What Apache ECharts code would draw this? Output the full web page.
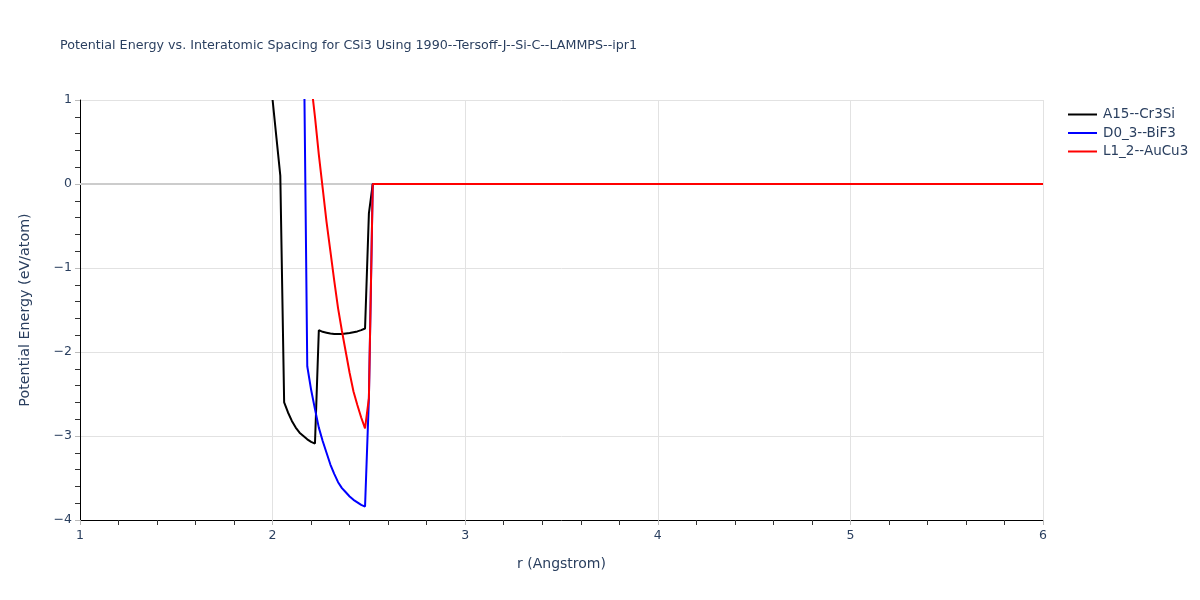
<!DOCTYPE html>
<html><head><meta charset="utf-8">
<script src="https://cdn.jsdelivr.net/npm/echarts@6/dist/echarts.min.js"></script>
<style>html,body{margin:0;padding:0;background:#fff}#c{width:1200px;height:600px}</style>
</head><body><div id="c"></div>
<script>
const seriesNames = ["A15--Cr3Si", "D0_3--BiF3", "L1_2--AuCu3"];
const colors = ["#000000", "#0000ff", "#ff0000"];
const xTicks = [1, 2, 3, 4, 5, 6];
const yTicks = [-4, -3, -2, -1, 0, 1];

const rA15 = [2.00, 2.02, 2.04, 2.06, 2.08, 2.10, 2.12, 2.14, 2.16, 2.18, 2.20, 2.22, 2.24, 2.26, 2.28, 2.30, 2.32, 2.34, 2.36, 2.38, 2.40, 2.42, 2.44, 2.46, 2.48, 2.50, 2.52, 3.0, 3.5, 4.0, 4.5, 5.0, 5.5, 6.0];
const eA15 = [1.0, 0.55, 0.1, -2.6, -2.72, -2.82, -2.9, -2.96, -3.0, -3.04, -3.07, -3.09, -1.74, -1.76, -1.77, -1.78, -1.785, -1.785, -1.785, -1.78, -1.775, -1.765, -1.755, -1.74, -1.72, -0.35, 0, 0, 0, 0, 0, 0, 0, 0];

const rD03 = [2.16, 2.18, 2.20, 2.22, 2.24, 2.26, 2.28, 2.30, 2.32, 2.34, 2.36, 2.38, 2.40, 2.42, 2.44, 2.46, 2.48, 2.50, 2.52, 3.0, 3.5, 4.0, 4.5, 5.0, 5.5, 6.0];
const eD03 = [2.2, -2.17, -2.45, -2.68, -2.9, -3.06, -3.2, -3.34, -3.45, -3.55, -3.62, -3.67, -3.72, -3.76, -3.79, -3.82, -3.84, -2.55, 0, 0, 0, 0, 0, 0, 0, 0];

const rL12 = [2.20, 2.22, 2.24, 2.26, 2.28, 2.30, 2.32, 2.34, 2.36, 2.38, 2.40, 2.42, 2.44, 2.46, 2.48, 2.50, 2.52, 3.0, 3.5, 4.0, 4.5, 5.0, 5.5, 6.0];
const eL12 = [1.2, 0.8, 0.35, -0.05, -0.45, -0.8, -1.15, -1.48, -1.75, -2.0, -2.25, -2.47, -2.63, -2.78, -2.91, -2.55, 0, 0, 0, 0, 0, 0, 0, 0];

const rs = [rA15, rD03, rL12];
const es = [eA15, eD03, eL12];

const chart = echarts.init(document.getElementById('c'));
const txt = '#2a3f5f';
const font = 'DejaVu Sans, Verdana, sans-serif';
const series = seriesNames.map((n, i) => ({
  name: n, type: 'line', showSymbol: false, symbol: 'none',
  data: rs[i].map((r, j) => [r, es[i][j]]),
  lineStyle: { color: colors[i], width: 2 }, itemStyle: { color: colors[i] },
  clip: true, z: 3 + i
}));
series.unshift({
  name: 'zero', type: 'line', symbol: 'none', silent: true, data: [[1, 0], [6, 0]],
  lineStyle: { color: '#cccccc', width: 2 }, z: 2, legendHoverLink: false
});
chart.setOption({
  animation: false,
  backgroundColor: '#fff',
  title: { text: 'Potential Energy vs. Interatomic Spacing for CSi3 Using 1990--Tersoff-J--Si-C--LAMMPS--ipr1',
    left: 60, top: 39, padding: 0, textStyle: { fontFamily: font, fontSize: 12.7, fontWeight: 'normal', color: txt } },
  legend: { data: seriesNames, orient: 'vertical', left: 1068, top: 107, padding: 0, itemGap: 3.5, itemWidth: 29, itemHeight: 15,
    icon: 'path://M0,6.5 L29,6.5 L29,8.5 L0,8.5 Z',
    textStyle: { fontFamily: font, fontSize: 13.5, color: txt, padding: [0, 0, 0, 1], lineHeight: 15 } },
  grid: { left: 80, right: 157, top: 100, bottom: 80, containLabel: false },
  xAxis: {
    type: 'value', min: 1, max: 6, interval: 1,
    name: 'r (Angstrom)', nameLocation: 'middle', nameGap: 37,
    nameTextStyle: { fontFamily: font, fontSize: 14, color: txt },
    axisLine: { onZero: false, lineStyle: { color: '#000', width: 1 } },
    axisTick: { show: true, length: 5, lineStyle: { color: '#bbb' } },
    minorTick: { show: true, splitNumber: 5, length: 5, lineStyle: { color: '#333' } },
    axisLabel: { color: txt, fontFamily: font, fontSize: 12.5, margin: 9 },
    splitLine: { show: true, lineStyle: { color: '#e2e2e2', width: 1 } }
  },
  yAxis: {
    type: 'value', min: -4, max: 1, interval: 1,
    name: 'Potential Energy (eV/atom)', nameLocation: 'middle', nameGap: 48,
    nameTextStyle: { fontFamily: font, fontSize: 14.3, color: txt },
    axisLine: { show: true, onZero: false, lineStyle: { color: '#000', width: 1 } },
    axisTick: { show: true, length: 5, lineStyle: { color: '#bbb' } },
    minorTick: { show: true, splitNumber: 5, length: 5, lineStyle: { color: '#333' } },
    axisLabel: { color: txt, fontFamily: font, fontSize: 12.5, margin: 8,
      formatter: v => (v < 0 ? '\u2212' + Math.abs(v) : String(v)) },
    splitLine: { show: true, lineStyle: { color: '#e2e2e2', width: 1 } }
  },
  series: series
});
</script></body></html>
